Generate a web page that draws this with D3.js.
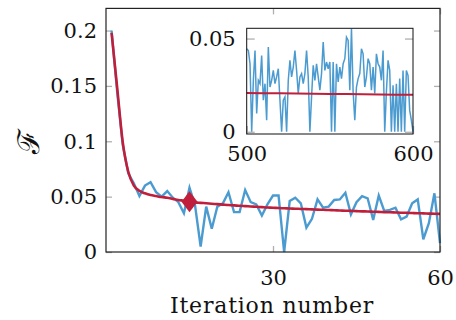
<!DOCTYPE html>
<html>
<head>
<meta charset="utf-8">
<script src="https://cdn.jsdelivr.net/npm/d3@7"></script>
<style>
  body { margin: 0; background: #fff; }
  svg { display: block; }
  text { font-family: 'DejaVu Serif', serif; fill: #111; font-size: 21px; }
  .tick line { stroke: #b0b0b0; stroke-width: 1.3; }
  .domain { display: none; }
</style>
</head>
<body>
<svg id="chart" width="456" height="320"></svg>
<script>
// main plot: iteration 1..60
const fValues = [
  0.200, 0.145, 0.097, 0.071, 0.062, 0.0505, 0.060, 0.063, 0.054, 0.050,
  0.055, 0.049, 0.045, 0.035, 0.058, 0.042, 0.005, 0.041, 0.021, 0.041,
  0.044, 0.054, 0.036, 0.036, 0.056, 0.045, 0.043, 0.033, 0.043, 0.051,
  0.051, 0.000, 0.046, 0.049, 0.044, 0.022, 0.030, 0.0475, 0.040, 0.041,
  0.047, 0.0475, 0.0535, 0.034, 0.045, 0.0505, 0.0485, 0.029, 0.051, 0.037,
  0.038, 0.040, 0.0295, 0.032, 0.044, 0.0475, 0.0115, 0.026, 0.053, 0.008
];
const fMean = [
  0.198, 0.149, 0.0995, 0.0725, 0.060, 0.0553, 0.053, 0.0514, 0.0505, 0.0496,
  0.049, 0.048, 0.047, 0.0463, 0.0454, 0.0448, 0.0444, 0.0440, 0.0436, 0.0432,
  0.0428, 0.0424, 0.0421, 0.0417, 0.0414, 0.0411, 0.0408, 0.0405, 0.0402, 0.0400,
  0.0397, 0.0395, 0.0393, 0.0391, 0.0389, 0.0387, 0.0385, 0.0383, 0.0381, 0.0379,
  0.0377, 0.0375, 0.0373, 0.0371, 0.0369, 0.0367, 0.0366, 0.0364, 0.0362, 0.0360,
  0.0359, 0.0357, 0.0355, 0.0354, 0.0352, 0.0350, 0.0349, 0.0347, 0.0346, 0.0344
];
const markIteration = 15;
const xTicks = [30, 60];
const yTicks = [0, 0.05, 0.1, 0.15, 0.2];
const yTickLabels = ['0', '0.05', '0.1', '0.15', '0.2'];

// inset: iteration 500..600
const insetValues = [
  0.0445, 0.0436, 0.0365, 0.0000, 0.0276, 0.0436, 0.0098, 0.0276, 0.0258, 0.0409,
  0.0169, 0.0258, 0.0062, 0.0454, 0.0240, 0.0276, 0.0329, 0.0258, 0.0294, 0.0338,
  0.0169, 0.0000, 0.0169, 0.0187, 0.0000, 0.0276, 0.0383, 0.0294, 0.0347, 0.0436,
  0.0329, 0.0205, 0.0294, 0.0312, 0.0258, 0.0312, 0.0436, 0.0294, 0.0000, 0.0187,
  0.0356, 0.0276, 0.0365, 0.0294, 0.0223, 0.0312, 0.0481, 0.0329, 0.0374, 0.0338,
  0.0374, 0.0000, 0.0374, 0.0000, 0.0365, 0.0267, 0.0347, 0.0285, 0.0365, 0.0392,
  0.0507, 0.0490, 0.0223, 0.0552, 0.0214, 0.0062, 0.0240, 0.0285, 0.0312, 0.0445,
  0.0418, 0.0240, 0.0294, 0.0392, 0.0365, 0.0223, 0.0347, 0.0205, 0.0418, 0.0365,
  0.0347, 0.0276, 0.0436, 0.0000, 0.0214, 0.0383, 0.0329, 0.0000, 0.0249, 0.0000,
  0.0258, 0.0000, 0.0285, 0.0000, 0.0329, 0.0000, 0.0329, 0.0303, 0.0116, 0.0062,
  0.0000
];
const insetMeanIter = [500, 510, 520, 530, 540, 550, 560, 570, 580, 590, 600];
const insetMean = [0.0208, 0.0207, 0.0206, 0.0205, 0.0204, 0.0203, 0.0202, 0.0201, 0.0200, 0.0199, 0.0198];
const insetXTicks = [500, 600];
const insetYTicks = [0, 0.05];
const insetYTickLabels = ['0', '0.05'];

const blue = '#4b9bd1', red = '#c01f3b';

const svg = d3.select('#chart');

const x = d3.scaleLinear().domain([0, 60]).range([106, 440]);
const y = d3.scaleLinear().domain([0, 0.22]).range([252, 8.4]);

// frame + ticks
const g = svg.append('g');

g.append('g')
  .attr('transform', 'translate(0,' + y(0) + ')')
  .call(d3.axisBottom(x).tickValues(xTicks).tickSizeInner(-6).tickSizeOuter(0).tickPadding(18));
g.append('g')
  .attr('transform', 'translate(0,' + y.range()[1] + ')')
  .call(d3.axisTop(x).tickValues(xTicks).tickSizeInner(-6).tickSizeOuter(0).tickFormat(''));
g.append('g')
  .attr('transform', 'translate(' + x(0) + ',0)')
  .call(d3.axisLeft(y).tickValues(yTicks).tickSizeInner(-6).tickSizeOuter(0).tickPadding(9)
    .tickFormat(function(d, i) { return yTickLabels[i]; }));
g.append('g')
  .attr('transform', 'translate(' + x(60) + ',0)')
  .call(d3.axisRight(y).tickValues(yTicks).tickSizeInner(-6).tickSizeOuter(0).tickFormat(''));

g.selectAll('.tick text').attr('fill', '#111').style('font-size', '21px')
  .style('font-family', "'DejaVu Serif', serif");

// lines
const line = d3.line()
  .x(function(d, i) { return x(i + 1); })
  .y(function(d) { return y(d); });

g.append('path')
  .datum(fValues)
  .attr('fill', 'none')
  .attr('stroke', blue)
  .attr('stroke-width', 2.4)
  .attr('stroke-linejoin', 'miter')
  .attr('d', line);

g.append('path')
  .datum(fMean)
  .attr('fill', 'none')
  .attr('stroke', red)
  .attr('stroke-width', 2.6)
  .attr('d', line.curve(d3.curveMonotoneX));

g.append('path')
  .attr('transform', 'translate(' + x(markIteration) + ',' + y(fMean[markIteration - 1]) + ')')
  .attr('d', 'M0,-10.5L8,0L0,10.5L-8,0Z')
  .attr('fill', red);

g.append('rect')
  .attr('x', x(0)).attr('y', y.range()[1])
  .attr('width', x(60) - x(0)).attr('height', y(0) - y.range()[1])
  .attr('fill', 'none').attr('stroke', '#222').attr('stroke-width', 1.2);

// axis labels
svg.append('text')
  .attr('x', (x(0) + x(60)) / 2 - 1)
  .attr('y', 313)
  .attr('text-anchor', 'middle')
  .style('font-size', '22px')
  .style('letter-spacing', '0.8px')
  .text('Iteration number');

svg.append('text')
  .attr('transform', 'translate(39,141) rotate(-90)')
  .attr('text-anchor', 'middle')
  .style('font-size', '30px')
  .text('ℱ');

// inset
const xi = d3.scaleLinear().domain([500, 600]).range([246.7, 413]);
const yi = d3.scaleLinear().domain([-0.0012, 0.0555]).range([134, 28.3]);

const gi = svg.append('g');

gi.append('rect')
  .attr('x', xi(500)).attr('y', yi.range()[1])
  .attr('width', xi(600) - xi(500)).attr('height', yi.range()[0] - yi.range()[1])
  .attr('fill', '#fff');

gi.append('g')
  .attr('transform', 'translate(' + xi(500) + ',0)')
  .call(d3.axisLeft(yi).tickValues(insetYTicks).tickSizeInner(-8).tickSizeOuter(0).tickPadding(11)
    .tickFormat(function(d, i) { return insetYTickLabels[i]; }));
gi.append('g')
  .attr('transform', 'translate(' + xi(600) + ',0)')
  .call(d3.axisRight(yi).tickValues(insetYTicks).tickSizeInner(-8).tickSizeOuter(0).tickFormat(''));
gi.append('g')
  .attr('transform', 'translate(0,' + yi.range()[0] + ')')
  .call(d3.axisBottom(xi).tickValues(insetXTicks).tickSizeInner(-8).tickSizeOuter(0).tickPadding(12));

gi.selectAll('.tick text').attr('fill', '#111').style('font-size', '21px')
  .style('font-family', "'DejaVu Serif', serif");

gi.append('path')
  .datum(insetValues)
  .attr('fill', 'none')
  .attr('stroke', blue)
  .attr('stroke-width', 1.5)
  .attr('d', d3.line()
    .x(function(d, i) { return xi(500 + i); })
    .y(function(d) { return yi(d); }));

gi.append('path')
  .datum(insetMean)
  .attr('fill', 'none')
  .attr('stroke', red)
  .attr('stroke-width', 2)
  .attr('d', d3.line()
    .x(function(d, i) { return xi(insetMeanIter[i]); })
    .y(function(d) { return yi(d); }));

gi.append('rect')
  .attr('x', xi(500)).attr('y', yi.range()[1])
  .attr('width', xi(600) - xi(500)).attr('height', yi.range()[0] - yi.range()[1])
  .attr('fill', 'none').attr('stroke', '#111').attr('stroke-width', 1);
</script>
</body>
</html>
